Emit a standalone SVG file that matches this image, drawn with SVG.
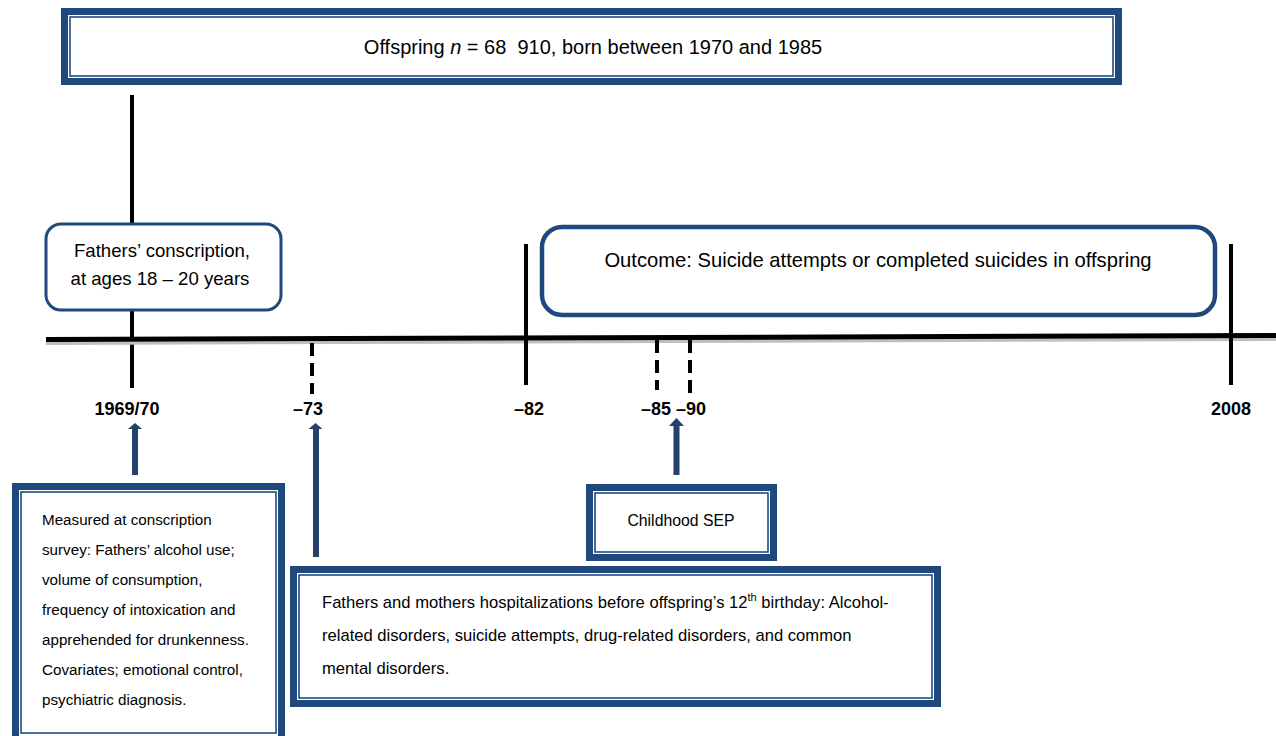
<svg xmlns="http://www.w3.org/2000/svg" width="1276" height="736" viewBox="0 0 1276 736">
<style>
  .frame-outer { fill: #1F497D; }
  .frame-gap { fill: #FFFFFF; }
  .frame-line { fill: #FFFFFF; stroke: #1F497D; stroke-width: 1.6; }
  .rounded { fill: #FFFFFF; stroke: #1F497D; }
  .txt { font-family: "Liberation Sans", Arial, sans-serif; fill: #000000; }
  .lbl { font-family: "Liberation Sans", Arial, sans-serif; font-weight: bold; font-size: 18px; fill: #000000; text-anchor: middle; }
  .solid { stroke: #000000; stroke-width: 4; fill: none; }
  .dashed { stroke: #000000; stroke-width: 4; fill: none; stroke-dasharray: 13 7; }
  .arrow { fill: #24406B; }
</style>
<rect width="1276" height="736" fill="#FFFFFF"/>

<g id="connectors">
  <line x1="132" y1="95" x2="132" y2="388" class="solid"/>
  <line x1="46" y1="343" x2="1276" y2="339" stroke="#BFBFBF" stroke-width="4"/>
  <line x1="46" y1="339.5" x2="1276" y2="335.5" stroke="#000000" stroke-width="5"/>
  <line x1="526" y1="244" x2="526" y2="385" class="solid"/>
  <line x1="1231" y1="244" x2="1231" y2="385" class="solid"/>
  <line x1="312" y1="343" x2="312" y2="394" class="dashed"/>
  <line x1="657" y1="340" x2="657" y2="390" class="dashed"/>
  <line x1="690" y1="340" x2="690" y2="393" class="dashed"/>
  <polygon class="arrow" points="132,475 132,429 128,429 135,423 142,429 138,429 138,475"/>
  <polygon class="arrow" points="313,557 313,429 308.5,429 315.5,423 322.5,429 319,429 319,557"/>
  <polygon class="arrow" points="673.5,475 673.5,426 669,426 676.5,418 684,426 679.5,426 679.5,475"/>
</g>

<g id="labels">
  <text class="lbl" x="127" y="415">1969/70</text>
  <text class="lbl" x="308" y="415">–73</text>
  <text class="lbl" x="529" y="415">–82</text>
  <text class="lbl" x="656" y="415">–85</text>
  <text class="lbl" x="691" y="415">–90</text>
  <text class="lbl" x="1231" y="415">2008</text>
</g>

<g id="offspring">
  <rect class="frame-outer" x="61" y="8" width="1061" height="77"/>
  <rect class="frame-gap" x="68" y="15" width="1047" height="63"/>
  <rect class="frame-line" x="70" y="17" width="1043" height="59"/>
  <text class="txt" x="593" y="54" font-size="20" text-anchor="middle" xml:space="preserve">Offspring <tspan font-style="italic">n</tspan> = 68  910, born between 1970 and 1985</text>
</g>

<g id="conscription">
  <rect class="rounded" x="46" y="224" width="235" height="86" rx="15" stroke-width="3"/>
  <text class="txt" x="162" y="257" font-size="18.6" text-anchor="middle">Fathers’ conscription,</text>
  <text class="txt" x="160" y="285" font-size="18.6" text-anchor="middle">at ages 18 – 20 years</text>
</g>

<g id="outcome">
  <rect class="rounded" x="542" y="227" width="673" height="88" rx="20" stroke-width="4.5"/>
  <text class="txt" x="878" y="267" font-size="20.2" text-anchor="middle">Outcome: Suicide attempts or completed suicides in offspring</text>
</g>

<g id="measured">
  <rect class="frame-outer" x="12" y="483" width="273" height="260"/>
  <rect class="frame-gap" x="19" y="490" width="259" height="260"/>
  <rect class="frame-line" x="21" y="492" width="255" height="241"/>
  <g class="txt" font-size="15.2">
    <text x="42" y="525">Measured at conscription</text>
    <text x="42" y="555">survey: Fathers’ alcohol use;</text>
    <text x="42" y="585">volume of consumption,</text>
    <text x="42" y="615">frequency of intoxication and</text>
    <text x="42" y="645">apprehended for drunkenness.</text>
    <text x="42" y="675">Covariates; emotional control,</text>
    <text x="42" y="705">psychiatric diagnosis.</text>
  </g>
</g>

<g id="sep">
  <rect class="frame-outer" x="586" y="484" width="191" height="77"/>
  <rect class="frame-gap" x="593" y="491" width="177" height="63"/>
  <rect class="frame-line" x="595" y="493" width="173" height="59"/>
  <text class="txt" x="681" y="526" font-size="15.8" text-anchor="middle">Childhood SEP</text>
</g>

<g id="hospitalizations">
  <rect class="frame-outer" x="290" y="566" width="651" height="141"/>
  <rect class="frame-gap" x="297" y="573" width="637" height="127"/>
  <rect class="frame-line" x="299" y="575" width="633" height="123"/>
  <g class="txt" font-size="16.6">
    <text x="322" y="608">Fathers and mothers hospitalizations before offspring’s 12<tspan font-size="11" dy="-7">th</tspan><tspan dy="7"> birthday: Alcohol-</tspan></text>
    <text x="322" y="641">related disorders, suicide attempts, drug-related disorders, and common</text>
    <text x="322" y="674">mental disorders.</text>
  </g>
</g>
</svg>
